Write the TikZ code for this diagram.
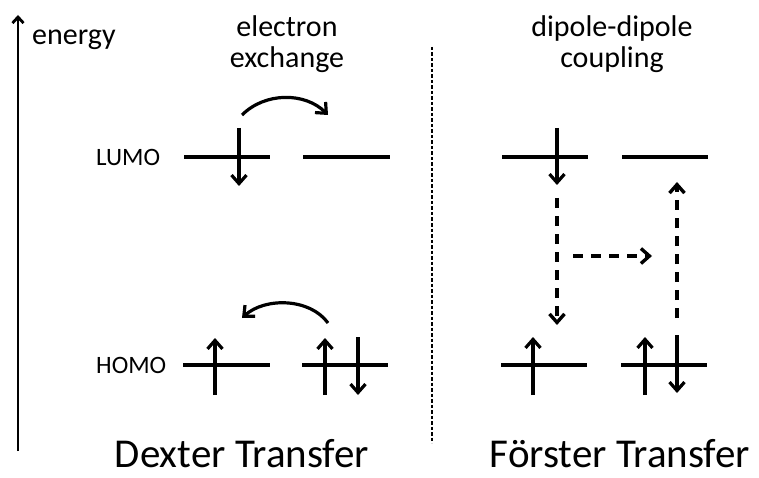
\documentclass[tikz,border=0pt]{standalone}
\usepackage{fontspec}
\setmainfont{Carlito}
\usetikzlibrary{arrows.meta}
\begin{document}
\begin{tikzpicture}[x=1pt,y=-1pt,
  level/.style={line width=4.4pt},
  spin/.style={line width=3.2pt,-{Straight Barb[length=8.5pt,width=15pt]}},
  transfer/.style={line width=3.2pt,-{Straight Barb[length=8.5pt,width=15pt]}},
  dipole/.style={line width=3.4pt,dash pattern=on 10pt off 8pt,-{Straight Barb[length=8.5pt,width=15pt]}},
  axis/.style={line width=2.8pt,-{Straight Barb[length=6pt,width=11pt]}},
  divider/.style={line width=1.2pt,dash pattern=on 3.5pt off 2pt},
  lbl/.style={font=\fontsize{30}{32}\selectfont,inner sep=0pt},
  orb/.style={font=\fontsize{25}{27}\selectfont,inner sep=0pt,anchor=west},
  title/.style={font=\fontsize{41}{44}\selectfont,inner sep=0pt,anchor=base}]
\useasboundingbox (0,0) rectangle (759,478);

% energy axis
\coordinate (eb) at (18,451);
\coordinate (et) at (18,15);
\draw[axis] (eb) -- (et);
\node[lbl,anchor=base west] (energy) at (32,45) {energy};

% divider
\coordinate (dt) at (432,47);
\coordinate (db) at (432,443);
\draw[divider] (dt) -- (db);

% headings
\node[lbl,anchor=base] (el1) at (287,37) {electron};
\node[lbl,anchor=base] (el2) at (287,68) {exchange};
\node[lbl,anchor=base] (dp1) at (612,37) {dipole-dipole};
\node[lbl,anchor=base] (dp2) at (612,68) {coupling};

% orbital labels
\node[orb] (lumo) at (96,157) {LUMO};
\node[orb] (homo) at (96,365) {HOMO};

% ---------------- Dexter ----------------
\coordinate (dl1a) at (184,157); \coordinate (dl1b) at (270,157);
\coordinate (dl2a) at (303,157); \coordinate (dl2b) at (390,157);
\coordinate (dh1a) at (183,365); \coordinate (dh1b) at (270,365);
\coordinate (dh2a) at (302,365); \coordinate (dh2b) at (388,365);
\draw[level] (dl1a) -- (dl1b);
\draw[level] (dl2a) -- (dl2b);
\draw[level] (dh1a) -- (dh1b);
\draw[level] (dh2a) -- (dh2b);

\coordinate (s1a) at (239,128); \coordinate (s1b) at (239,186);
\draw[spin] (s1a) -- (s1b);
\coordinate (s2a) at (215,395); \coordinate (s2b) at (215,338);
\draw[spin] (s2a) -- (s2b);
\coordinate (s3a) at (325,395); \coordinate (s3b) at (325,338);
\draw[spin] (s3a) -- (s3b);
\coordinate (s4a) at (358,337); \coordinate (s4b) at (358,395);
\draw[spin] (s4a) -- (s4b);

\coordinate (x1a) at (242,115); \coordinate (x1b) at (328,115);
\draw[transfer] (x1a) .. controls (265,92) and (305,92) .. (x1b);
\coordinate (x2a) at (328,323); \coordinate (x2b) at (242,318);
\draw[transfer] (x2a) .. controls (310,298) and (265,297) .. (x2b);

\node[title] (dexter) at (242,467) {Dexter Transfer};

% ---------------- Foerster ----------------
\coordinate (fl1a) at (502,157); \coordinate (fl1b) at (588,157);
\coordinate (fl2a) at (622,157); \coordinate (fl2b) at (708,157);
\coordinate (fh1a) at (501,365); \coordinate (fh1b) at (587,365);
\coordinate (fh2a) at (621,365); \coordinate (fh2b) at (707,365);
\draw[level] (fl1a) -- (fl1b);
\draw[level] (fl2a) -- (fl2b);
\draw[level] (fh1a) -- (fh1b);
\draw[level] (fh2a) -- (fh2b);

\coordinate (t1a) at (557,128); \coordinate (t1b) at (557,185);
\draw[spin] (t1a) -- (t1b);
\coordinate (t2a) at (533,395); \coordinate (t2b) at (533,337);
\draw[spin] (t2a) -- (t2b);
\coordinate (t3a) at (645,395); \coordinate (t3b) at (645,337);
\draw[spin] (t3a) -- (t3b);
\coordinate (t4a) at (677,335); \coordinate (t4b) at (677,393);
\draw[spin] (t4a) -- (t4b);

\coordinate (q1a) at (557,198); \coordinate (q1b) at (557,325);
\draw[dipole] (q1a) -- (q1b);
\coordinate (q2a) at (573,256); \coordinate (q2b) at (652,256);
\draw[dipole] (q2a) -- (q2b);
\coordinate (q3a) at (677,318); \coordinate (q3b) at (677,182);
\draw[dipole] (q3a) -- (q3b);

\node[title] (forster) at (620,467) {Förster Transfer};
\end{tikzpicture}
\end{document}
